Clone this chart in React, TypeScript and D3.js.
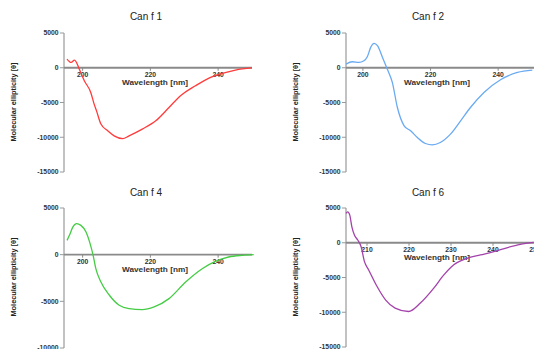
import React, { useEffect, useRef } from "react";
import * as d3 from "d3";

// wavelength [nm] / molecular ellipticity
const canf1Wl = [195.4, 196.6, 197.6, 198.2, 198.8, 200.5, 202.4, 203.4, 204.1, 205.4, 207.4, 209.3, 211.8, 213.7, 217.6, 221.6, 225.5, 228.9, 233.3, 237.3, 241.2, 245.1, 250];
const canf1Val = [1250, 760, 1100, 760, 50, -1870, -3550, -5230, -6200, -8100, -9070, -9800, -10200, -9800, -8830, -7630, -5720, -4030, -2590, -1480, -820, -330, -30];

const canf2Wl = [195, 196.9, 198.8, 200.3, 201.3, 202.3, 203.3, 204.3, 205.8, 207.2, 208.7, 210.2, 212.2, 214.1, 216.1, 218.5, 220.5, 222.9, 225.9, 228.9, 231.8, 235.8, 240.7, 245.7, 250.1];
const canf2Val = [530, 860, 760, 1000, 1580, 2930, 3500, 3170, 1490, -190, -2110, -5720, -8350, -9070, -10030, -10900, -11090, -10750, -9550, -7630, -5720, -3550, -1730, -670, -340];

const canf4Wl = [195.4, 196.1, 197.1, 198.2, 199.5, 201, 202.2, 203.1, 203.9, 205.4, 207.9, 210.8, 213.7, 217.6, 221.1, 225.5, 230.4, 235.3, 239.2, 243.1, 247.1, 250.5];
const canf4Val = [1530, 2070, 2950, 3320, 3140, 2420, 1180, -70, -1500, -2930, -4350, -5420, -5780, -5890, -5600, -4710, -2930, -1500, -720, -250, -70, 0];

const canf6Wl = [205, 205.4, 205.9, 206.4, 207, 207.8, 208.6, 209.4, 210.4, 212.4, 214.4, 216.7, 219.9, 222.7, 225.9, 228.3, 230.6, 233.8, 237, 240.2, 243.3, 246.5, 249.7];
const canf6Val = [4210, 4440, 3970, 2290, 1100, 390, -570, -2720, -3910, -6300, -8210, -9400, -9890, -8680, -6530, -4630, -3200, -2240, -1760, -1290, -720, -230, 60];

const titles = ["Can f 1", "Can f 2", "Can f 4", "Can f 6"];
const colors = ["#ff3b3b", "#6aaaf2", "#44cc44", "#a442ab"];
const xTicks = [[200, 220, 240], [200, 220, 240], [200, 220, 240], [210, 220, 230, 240, 250]];
const yTicksA = [5000, 0, -5000, -10000, -15000];
const yTicksB = [5000, 0, -5000, -10000];

const panels = [
  { wl: canf1Wl, val: canf1Val, xd: [194.5, 250], xr: [64, 252], yd: [-15000, 5000], yr: [172, 33], yt: yTicksA, titleY: 20, labY: 102 },
  { wl: canf2Wl, val: canf2Val, xd: [195, 250.6], xr: [346, 534], yd: [-15000, 5000], yr: [172, 33], yt: yTicksA, titleY: 20, labY: 102 },
  { wl: canf4Wl, val: canf4Val, xd: [194.5, 250], xr: [64, 252], yd: [-10000, 5000], yr: [348, 208], yt: yTicksB, titleY: 196, labY: 277 },
  { wl: canf6Wl, val: canf6Val, xd: [205, 250], xr: [346, 535], yd: [-15000, 5000], yr: [347, 208], yt: yTicksA, titleY: 196, labY: 277 },
];

export default function App() {
  const ref = useRef<SVGSVGElement>(null);

  useEffect(() => {
    const svg = d3.select(ref.current);
    svg.selectAll("*").remove();
    const font = "'Liberation Sans', Arial, sans-serif";

    panels.forEach((p, i) => {
      const x = d3.scaleLinear().domain(p.xd).range(p.xr);
      const y = d3.scaleLinear().domain(p.yd).range(p.yr);
      const g = svg.append("g");
      const x0 = p.xr[0];

      // y axis
      g.append("line").attr("x1", x0).attr("x2", x0)
        .attr("y1", y(p.yd[1])).attr("y2", y(p.yd[0]))
        .attr("stroke", "#999").attr("stroke-width", 1.2);
      p.yt.forEach(t => {
        g.append("line").attr("x1", x0 - 4).attr("x2", x0)
          .attr("y1", y(t)).attr("y2", y(t)).attr("stroke", "#999").attr("stroke-width", 1);
        g.append("text").attr("x", x0 - 5.5).attr("y", y(t) + 2.4)
          .attr("text-anchor", "end").attr("font-size", 6.8).attr("font-weight", "bold")
          .attr("fill", "#333").style("font-family", font).text(t);
      });

      // zero line with ticks
      g.append("line").attr("x1", x0).attr("x2", p.xr[1])
        .attr("y1", y(0)).attr("y2", y(0)).attr("stroke", "#8a8a8a").attr("stroke-width", 1.8);
      xTicks[i].forEach(t => {
        g.append("line").attr("x1", x(t)).attr("x2", x(t))
          .attr("y1", y(0)).attr("y2", y(0) + 3).attr("stroke", "#8a8a8a").attr("stroke-width", 1);
        g.append("text").attr("x", x(t)).attr("y", y(0) + 9)
          .attr("text-anchor", "middle").attr("font-size", 6.8).attr("font-weight", "bold")
          .attr("fill", "#333").style("font-family", font).text(t);
      });
      g.append("text").attr("x", x0 + 91).attr("y", y(0) + 17)
        .attr("text-anchor", "middle").attr("font-size", 7).attr("font-weight", "bold")
        .attr("textLength", 66).attr("lengthAdjust", "spacingAndGlyphs")
        .attr("fill", "#333").style("font-family", font).text("Wavelength [nm]");

      // y label
      const lx = x0 - 48;
      g.append("text").attr("transform", `translate(${lx},${p.labY}) rotate(-90)`)
        .attr("text-anchor", "middle").attr("font-size", 8).attr("font-weight", "bold")
        .attr("textLength", 79).attr("lengthAdjust", "spacingAndGlyphs")
        .attr("fill", "#222").style("font-family", font).text("Molecular ellipticity [θ]");

      // title
      g.append("text").attr("x", x0 + 82).attr("y", p.titleY)
        .attr("text-anchor", "middle").attr("font-size", 10)
        .attr("fill", "#222").style("font-family", font).text(titles[i]);

      const pts = p.wl.map((w, k) => [w, p.val[k]] as [number, number]);
      const line = d3.line<[number, number]>().x(d => x(d[0])).y(d => y(d[1])).curve(d3.curveMonotoneX);
      g.append("path").attr("d", line(pts)).attr("fill", "none")
        .attr("stroke", colors[i]).attr("stroke-width", 1.3);
    });
  }, []);

  return (
    <svg ref={ref} width={534} height={349}
      style={{ position: "absolute", left: 0, top: 0, background: "#fff" }} />
  );
}
